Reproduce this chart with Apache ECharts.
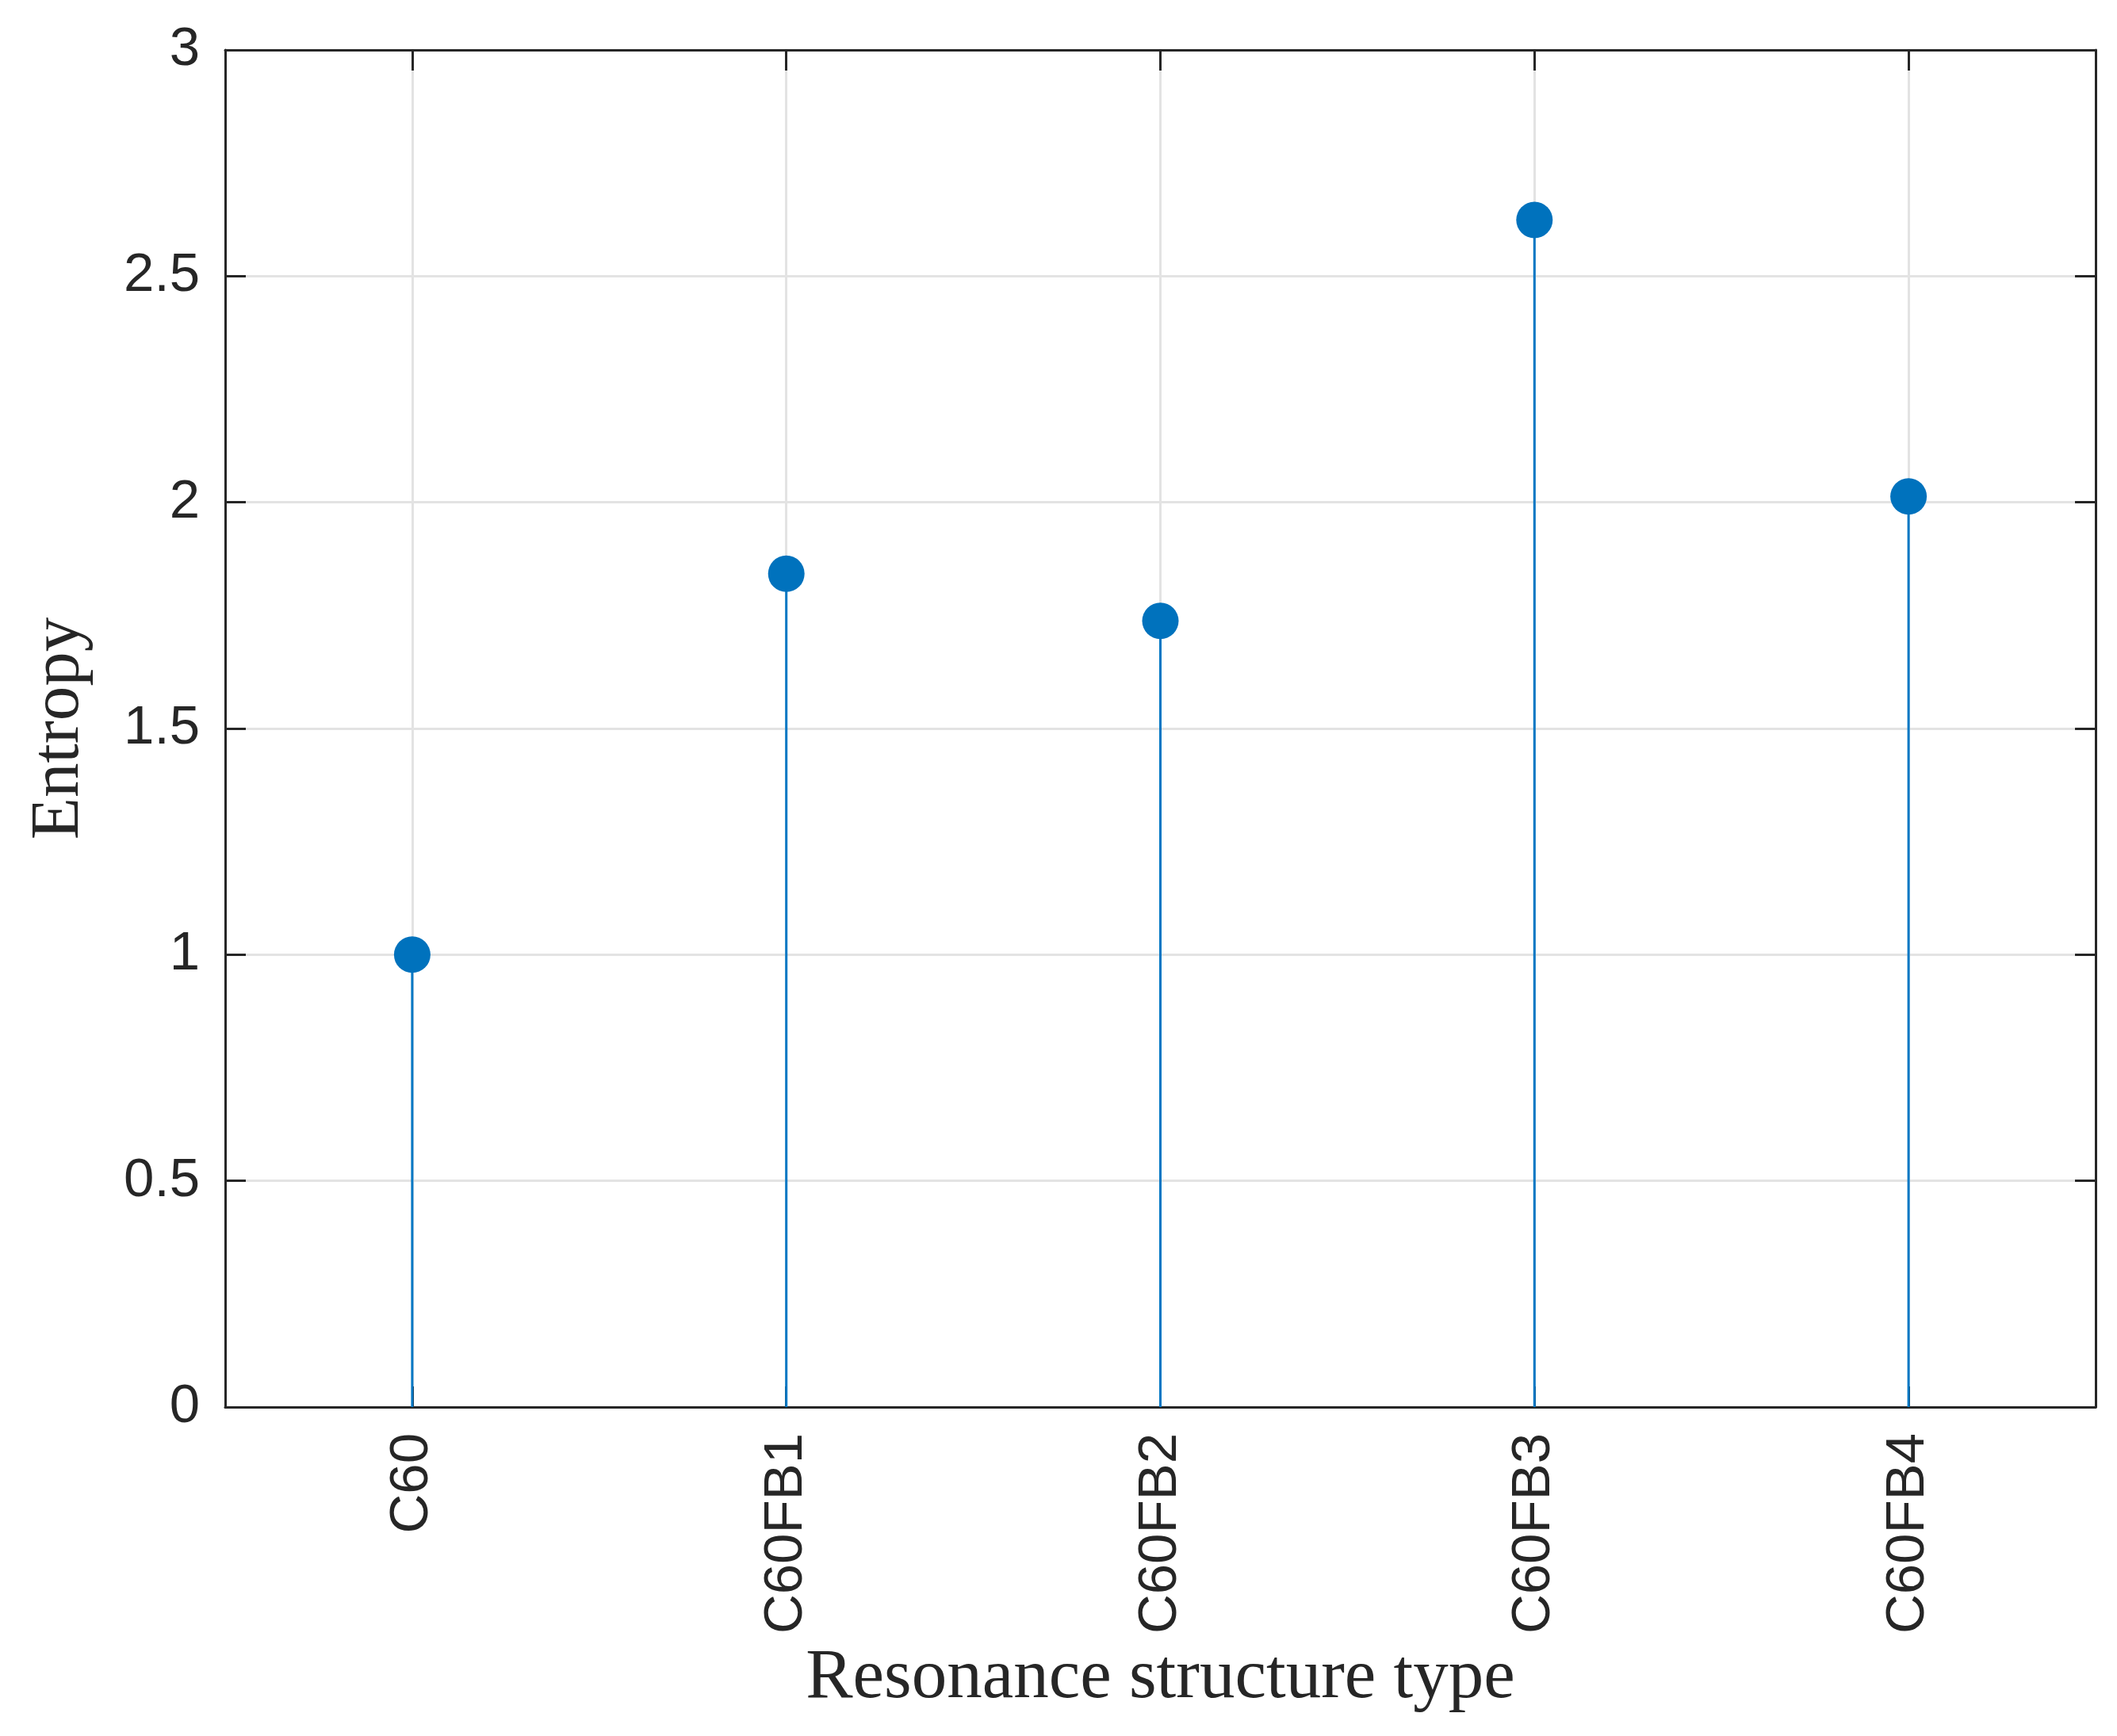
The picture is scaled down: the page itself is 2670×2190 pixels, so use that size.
<!DOCTYPE html>
<html>
<head>
<meta charset="utf-8">
<script src="https://cdn.jsdelivr.net/npm/echarts@6/dist/echarts.min.js"></script>
<style>
  html, body { margin: 0; padding: 0; background: #fff; }
  #chart { width: 2670px; height: 2190px; }
</style>
</head>
<body>
<div id="chart"></div>
<script>
  // data
  const categories = ['C60', 'C60FB1', 'C60FB2', 'C60FB3', 'C60FB4'];
  const entropy = [1.0, 1.842, 1.738, 2.624, 2.013];
  const yTicks = { min: 0, max: 3, interval: 0.5 };

  const axisColor = '#262626';
  const gridColor = '#e3e3e3';
  const blue = '#0072BD';
  const tickFont = 'Liberation Sans, Arial, sans-serif';
  const titleFont = 'Liberation Serif, Times New Roman, serif';

  const chart = echarts.init(document.getElementById('chart'));

  const frameLine = { show: true, onZero: false, lineStyle: { color: axisColor, width: 3 } };
  const tick = { show: true, inside: true, length: 26, alignWithLabel: true, lineStyle: { color: axisColor, width: 3 } };
  const yTick = { show: true, inside: true, length: 26, lineStyle: { color: axisColor, width: 3 } };

  const option = {
    animation: false,
    backgroundColor: '#fff',
    grid: { left: 284, right: 27, top: 63, bottom: 415, containLabel: false },
    xAxis: [
      {
        type: 'category',
        data: categories,
        position: 'bottom',
        boundaryGap: true,
        axisLine: frameLine,
        axisTick: tick,
        splitLine: { show: true, alignWithLabel: true, lineStyle: { color: gridColor, width: 3 } },
        axisLabel: {
          rotate: 90,
          margin: 33,
          color: axisColor,
          fontFamily: tickFont,
          fontSize: 69,
        },
        name: 'Resonance structure type',
        nameLocation: 'middle',
        nameGap: 298,
        nameTextStyle: { color: axisColor, fontFamily: titleFont, fontSize: 89 },
      },
      {
        type: 'category',
        data: categories,
        position: 'top',
        boundaryGap: true,
        axisLine: frameLine,
        axisTick: tick,
        axisLabel: { show: false },
        splitLine: { show: false },
      },
    ],
    yAxis: [
      {
        type: 'value',
        position: 'left',
        min: yTicks.min,
        max: yTicks.max,
        interval: yTicks.interval,
        axisLine: frameLine,
        axisTick: yTick,
        splitLine: { show: true, lineStyle: { color: gridColor, width: 3 } },
        axisLabel: { margin: 32, color: axisColor, fontFamily: tickFont, fontSize: 69 },
        name: 'Entropy',
        nameLocation: 'middle',
        nameRotate: 90,
        nameGap: 165,
        nameTextStyle: { color: axisColor, fontFamily: titleFont, fontSize: 87 },
      },
      {
        type: 'value',
        position: 'right',
        min: yTicks.min,
        max: yTicks.max,
        interval: yTicks.interval,
        axisLine: frameLine,
        axisTick: yTick,
        splitLine: { show: false },
        axisLabel: { show: false },
      },
    ],
    series: [
      {
        // stems
        type: 'bar',
        data: entropy,
        barWidth: 3,
        itemStyle: { color: '#0077C4' },
        z: 2,
      },
      {
        // markers
        type: 'scatter',
        data: entropy,
        symbol: 'circle',
        symbolSize: 46,
        itemStyle: { color: blue, opacity: 1 },
        z: 3,
      },
    ],
  };

  chart.setOption(option);
</script>
</body>
</html>
